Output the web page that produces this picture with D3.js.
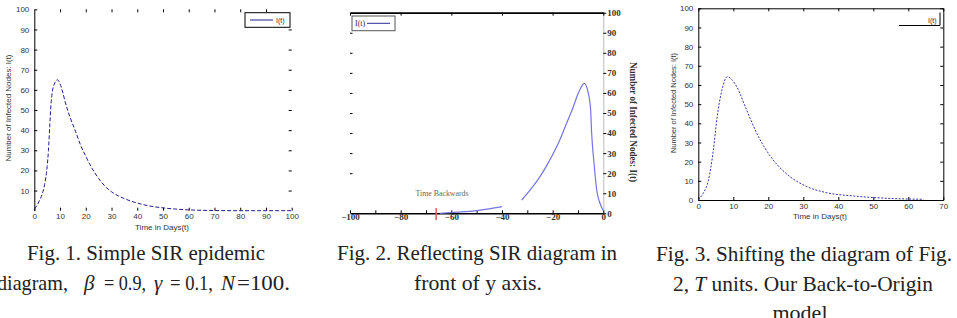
<!DOCTYPE html>
<html>
<head>
<meta charset="utf-8">
<style>
  body { margin: 0; background: #fff; }
  .sans text, text.sans { font-family: "Liberation Sans", Arial, sans-serif; font-size: 8px; fill: #333; }
  .serif text, text.serif { font-family: "Liberation Serif", "Times New Roman", serif; font-size: 9px; font-weight: bold; fill: #333; }
  .cap { font-family: "Liberation Serif", "Times New Roman", serif; font-size: 21px; fill: #222; }
</style>
</head>
<body>
<svg id="chart" width="957" height="318"></svg>
<script src="https://cdn.jsdelivr.net/npm/d3@7"></script>
<script>
// Fig. 1 - simple SIR curve
const fig1Time = [0, 1, 2, 3, 4, 5, 5.5, 6, 6.5, 7, 8, 9, 10, 11, 12, 14, 16, 18, 20, 22, 25, 28, 30, 35, 40, 45, 50, 55, 60, 65, 70, 80, 90, 100]
const fig1Infected = [1, 2.5, 5, 8, 13, 22, 30, 42, 53, 59, 63.5, 65, 63, 59, 54, 46, 39.5, 32.5, 27, 22, 16, 11.5, 9.4, 6, 3.8, 2.3, 1.4, 0.8, 0.4, 0.2, 0.1, 0, 0, 0]

// Fig. 2 - reflected (null = gap in the printed curve)
const fig2Time = [0, -1.3, -2.6, -3.3, -3.9, -4.6, -5, -5.9, -7.5, -9.9, -12, -14.5, -17, -19.7, -22, -25, -28, -32.2, -36, -40, -45, -50, -55, -59, -64.5]
const fig2Infected = [1.3, 5, 11.6, 19.9, 28.2, 39.9, 51.5, 59.8, 64.8, 59.8, 52.5, 44.9, 37, 29.9, 24.5, 18.3, 13, 6.6, null, 3.3, 2.2, 1.3, 0.8, 0.5, 0]
const fig2Marker = -66

// Fig. 3 - shifted back to origin
const fig3Time = [0, 1.4, 2.9, 4.3, 5.4, 6.7, 8.3, 9.5, 11, 13.8, 16.7, 21.4, 26.2, 31, 36.7, 44.3, 53.8, 64.3]
const fig3Infected = [0.3, 3.5, 10.4, 26, 43.5, 57, 64.3, 63, 59, 47, 34.8, 20.9, 12.2, 7, 3.8, 2.1, 0.9, 0.35]

// ticks
const yTicks = [0, 10, 20, 30, 40, 50, 60, 70, 80, 90, 100]
const fig1XTicks = [0, 10, 20, 30, 40, 50, 60, 70, 80, 90, 100]
const fig2XTicks = [-100, -80, -60, -40, -20, 0]
const fig2MinorTicks = [-90, -70, -50, -30, -10]
const fig3XTicks = [0, 10, 20, 30, 40, 50, 60, 70]

let svg = d3.select("#chart")

function toPoints(ts, vs) {
  return ts.map((t, i) => ({t: t, v: vs[i]}))
}

// ---------- Fig. 1 ----------
let x1 = d3.scaleLinear().domain([0, 100]).range([34.3, 291.7])
let y1 = d3.scaleLinear().domain([0, 100]).range([210.7, 9.3])
let g1 = svg.append("g").attr("class", "sans")

g1.append("g").attr("transform", `translate(${x1(0)},0)`)
  .call(d3.axisLeft(y1).tickValues(yTicks.slice(1)).tickSize(-3).tickSizeOuter(0).tickPadding(5))
g1.append("g").attr("transform", `translate(${x1(100)},0)`)
  .call(d3.axisRight(y1).tickValues(yTicks.slice(1, -1)).tickSize(-3).tickFormat(""))
  .select(".domain").remove()
g1.append("g").attr("transform", `translate(0,${y1(100)})`)
  .call(d3.axisTop(x1).tickValues(fig1XTicks.slice(1, -1)).tickSize(-3).tickFormat(""))
  .select(".domain").remove()
g1.append("g").attr("transform", `translate(0,${y1(0)})`)
  .call(d3.axisBottom(x1).tickValues(fig1XTicks).tickSize(-3).tickPadding(3))
  .select(".domain").remove()

g1.append("path")
  .datum(toPoints(fig1Time, fig1Infected))
  .attr("fill", "none").attr("stroke", "#1f1f8f").attr("stroke-width", 1)
  .attr("stroke-dasharray", "4,2")
  .attr("d", d3.line().x(d => x1(d.t)).y(d => y1(d.v)).curve(d3.curveMonotoneX))

g1.append("text").attr("transform", "translate(11,108) rotate(-90)")
  .attr("text-anchor", "middle").attr("textLength", 107).attr("lengthAdjust", "spacingAndGlyphs")
  .text("Number of Infected Nodes: I(t)")
g1.append("text").attr("x", 162).attr("y", 230).attr("text-anchor", "middle")
  .text("Time in Days(t)")

g1.append("rect").attr("x", 245).attr("y", 12.7).attr("width", 45).attr("height", 14.6)
  .attr("fill", "#fff").attr("stroke", "#000")
g1.append("line").attr("x1", 250).attr("x2", 273).attr("y1", 20).attr("y2", 20)
  .attr("stroke", "#1f1f8f")
g1.append("text").attr("x", 276).attr("y", 23).style("font-size", "7px").text("I(t)")

// ---------- Fig. 2 ----------
let x2 = d3.scaleLinear().domain([-100, 0]).range([350, 603.3])
let y2 = d3.scaleLinear().domain([0, 100]).range([213.3, 12.7])
let g2 = svg.append("g").attr("class", "serif")

g2.append("g").attr("transform", `translate(${x2(-100)},0)`)
  .call(d3.axisLeft(y2).tickValues(yTicks.slice(2, -1)).tickSize(-2.5).tickFormat(""))
  .select(".domain").remove()
let rightAx = g2.append("g").attr("transform", `translate(${x2(0)},0)`)
  .call(d3.axisRight(y2).tickValues(yTicks).tickSize(3).tickSizeOuter(0).tickPadding(1))
rightAx.select(".domain").attr("stroke", "#bbb")
g2.append("g").attr("transform", `translate(0,${y2(100)})`)
  .call(d3.axisTop(x2).tickValues(fig2XTicks).tickSize(-3).tickSizeOuter(0).tickFormat(""))
  .select(".domain").attr("stroke-width", 1.8)
g2.append("g").attr("transform", `translate(0,${y2(0)})`)
  .call(d3.axisBottom(x2).tickValues(fig2XTicks).tickSize(-3).tickSizeOuter(0).tickPadding(0))
  .select(".domain").attr("stroke-width", 1.5)
g2.append("g").attr("transform", `translate(0,${y2(0)})`)
  .call(d3.axisBottom(x2).tickValues(fig2MinorTicks).tickSize(-3).tickFormat(""))
  .select(".domain").remove()

g2.append("path")
  .datum(toPoints(fig2Time, fig2Infected))
  .attr("fill", "none").attr("stroke", "#7474e2").attr("stroke-width", 1.2)
  .attr("d", d3.line().defined(d => d.v !== null).x(d => x2(d.t)).y(d => y2(d.v)).curve(d3.curveMonotoneX))

g2.append("line").attr("x1", x2(fig2Marker)).attr("x2", x2(fig2Marker))
  .attr("y1", 208).attr("y2", 220).attr("stroke", "#e05a5a").attr("stroke-width", 1.5)

g2.append("text").attr("x", 442).attr("y", 196).attr("text-anchor", "middle")
  .style("font-weight", "normal").style("fill", "#666").style("font-size", "8.5px")
  .attr("textLength", 53).attr("lengthAdjust", "spacingAndGlyphs")
  .text("Time Backwards")
g2.append("text").attr("transform", "translate(630,122) rotate(90)")
  .attr("text-anchor", "middle").attr("textLength", 120).attr("lengthAdjust", "spacingAndGlyphs")
  .style("font-size", "9.5px")
  .text("Number of Infected Nodes: I(t)")

g2.append("rect").attr("x", 352).attr("y", 16).attr("width", 43).attr("height", 14.7)
  .attr("fill", "#fff").attr("stroke", "#555")
g2.append("text").attr("x", 355).attr("y", 26).style("font-weight", "normal").style("font-size", "8px").text("I(t)")
g2.append("line").attr("x1", 367).attr("x2", 390).attr("y1", 23.3).attr("y2", 23.3)
  .attr("stroke", "#2a2a9a")

// ---------- Fig. 3 ----------
let x3 = d3.scaleLinear().domain([0, 70]).range([698.3, 943.3])
let y3 = d3.scaleLinear().domain([0, 100]).range([200, 8.3])
let g3 = svg.append("g").attr("class", "sans")

g3.append("g").attr("transform", `translate(${x3(0)},0)`)
  .call(d3.axisLeft(y3).tickValues(yTicks).tickSize(-3).tickSizeOuter(0).tickPadding(5))
g3.append("g").attr("transform", `translate(${x3(70)},0)`)
  .call(d3.axisRight(y3).tickValues(yTicks).tickSize(-3).tickSizeOuter(0).tickFormat(""))
g3.append("g").attr("transform", `translate(0,${y3(100)})`)
  .call(d3.axisTop(x3).tickValues(fig3XTicks).tickSize(-3).tickSizeOuter(0).tickFormat(""))
g3.append("g").attr("transform", `translate(0,${y3(0)})`)
  .call(d3.axisBottom(x3).tickValues(fig3XTicks).tickSize(-3).tickSizeOuter(0).tickPadding(3))

g3.append("path")
  .datum(toPoints(fig3Time, fig3Infected))
  .attr("fill", "none").attr("stroke", "#3434b4").attr("stroke-width", 1)
  .attr("stroke-dasharray", "2,1.5")
  .attr("d", d3.line().x(d => x3(d.t)).y(d => y3(d.v)).curve(d3.curveMonotoneX))

g3.append("text").attr("transform", "translate(676,103) rotate(-90)")
  .attr("text-anchor", "middle").attr("textLength", 100).attr("lengthAdjust", "spacingAndGlyphs")
  .text("Number of Infected Nodes: I(t)")
g3.append("text").attr("x", 820).attr("y", 219).attr("text-anchor", "middle")
  .text("Time in Days(t)")

g3.append("path").attr("d", "M899,25.5H940V12.5").attr("fill", "none").attr("stroke", "#000")
g3.append("text").attr("x", 928).attr("y", 22.5).style("font-size", "7px").text("I(t)")

// ---------- captions ----------
function caption(cx, y, width, str) {
  svg.append("text").attr("class", "cap").attr("x", cx).attr("y", y)
    .attr("text-anchor", "middle").attr("textLength", width).attr("lengthAdjust", "spacingAndGlyphs")
    .text(str)
}
caption(146, 260, 238, "Fig. 1. Simple SIR epidemic")
caption(477, 260, 280, "Fig. 2. Reflecting SIR diagram in")
caption(478, 290, 128, "front of y axis.")
caption(804, 261, 296, "Fig. 3. Shifting the diagram of Fig.")
caption(800, 320, 55, "model")

let c3 = svg.append("text").attr("class", "cap").attr("x", 803).attr("y", 291)
  .attr("text-anchor", "middle").attr("textLength", 260).attr("lengthAdjust", "spacingAndGlyphs")
c3.append("tspan").text("2, ")
c3.append("tspan").style("font-style", "italic").text("T")
c3.append("tspan").text(" units. Our Back-to-Origin")

// math line of caption 1
let m = svg.append("text").attr("class", "cap").attr("y", 290)
m.append("tspan").attr("x", -3).attr("textLength", 71).attr("lengthAdjust", "spacingAndGlyphs").text("diagram,")
m.append("tspan").attr("x", 84).style("font-style", "italic").text("β")
m.append("tspan").attr("x", 104).attr("textLength", 42).attr("lengthAdjust", "spacingAndGlyphs").text("= 0.9,")
m.append("tspan").attr("x", 154).style("font-style", "italic").text("γ")
m.append("tspan").attr("x", 170).attr("textLength", 43).attr("lengthAdjust", "spacingAndGlyphs").text("= 0.1,")
m.append("tspan").attr("x", 221).style("font-style", "italic").text("N")
m.append("tspan").attr("x", 237).attr("textLength", 53).attr("lengthAdjust", "spacingAndGlyphs").text("=100.")
</script>
</body>
</html>
